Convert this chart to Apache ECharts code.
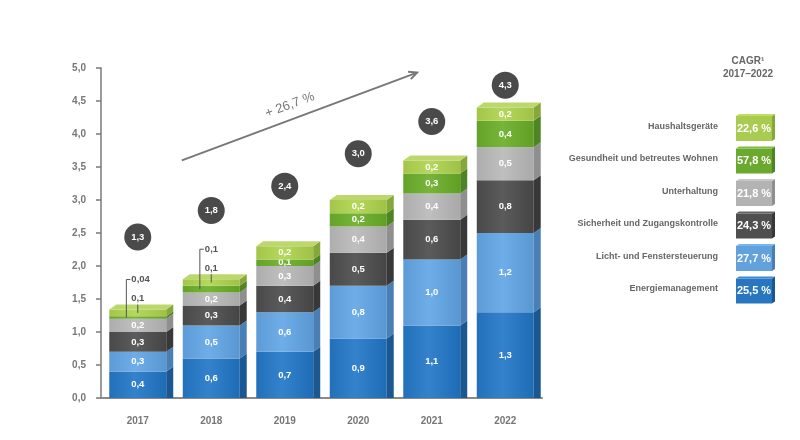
<!doctype html>
<html>
<head>
<meta charset="utf-8">
<title>Smart Home Umsatz 2017-2022</title>
<script src="https://cdn.jsdelivr.net/npm/echarts@6/dist/echarts.min.js"></script>
<style>
  html, body { margin: 0; padding: 0; background: #fff; }
  #chart { width: 800px; height: 440px; }
</style>
</head>
<body>
<div id="chart"></div>
<script>
// values as printed on the chart (bottom to top of each stack)
var years = ['2017', '2018', '2019', '2020', '2021', '2022'];
var energie = [0.4, 0.6, 0.7, 0.9, 1.1, 1.3];
var licht = [0.3, 0.5, 0.6, 0.8, 1.0, 1.2];
var sicherheit = [0.3, 0.3, 0.4, 0.5, 0.6, 0.8];
var unterhaltung = [0.2, 0.2, 0.3, 0.4, 0.4, 0.5];
var gesundheit = [0.04, 0.1, 0.1, 0.2, 0.3, 0.4];
var haushalt = [0.1, 0.1, 0.2, 0.2, 0.2, 0.2];
var totals = [1.3, 1.8, 2.4, 3.0, 3.6, 4.3];
var cagr = [25.5, 27.7, 24.3, 21.8, 57.8, 22.6];
var trendLabel = '+ 26,7 %';
var names = ['Energiemanagement', 'Licht- und Fenstersteuerung', 'Sicherheit und Zugangskontrolle',
             'Unterhaltung', 'Gesundheit und betreutes Wohnen', 'Haushaltsgeräte'];

// layout only
var bubbleAt = [2.44, 2.84, 3.21, 3.70, 4.19, 4.74];
var calloutYears = [0, 1];
var trendFrom = [0.6, 3.6], trendTo = [3.8, 4.93];
var front = ['#2876bf', '#63a1dd', '#4f4f4f', '#b3b3b3', '#6aa82e', '#a9cb4f'];
var side = ['#1b5891', '#4a7fb6', '#383838', '#8f8f8f', '#4e8421', '#86a73a'];
var topFace = '#bcd76c';
var FONT = '"Liberation Sans", Arial, sans-serif';

var stacks = [energie, licht, sicherheit, unterhaltung, gesundheit, haushalt];

function fmt(v) {
  return (v < 0.1 ? v.toFixed(2) : v.toFixed(1)).replace('.', ',');
}
function shade(c, amt) {
  var n = parseInt(c.slice(1), 16);
  var r = Math.min(255, Math.max(0, (n >> 16) + amt));
  var g = Math.min(255, Math.max(0, ((n >> 8) & 255) + amt));
  var b = Math.min(255, Math.max(0, (n & 255) + amt));
  return 'rgb(' + r + ',' + g + ',' + b + ')';
}

function segmentSeries(k) {
  var data = years.map(function (y, i) {
    var base = 0;
    for (var j = 0; j < k; j++) base += stacks[j][i];
    return [i, base, base + stacks[k][i], stacks[k][i]];
  });
  return {
    type: 'custom',
    name: names[k],
    data: data,
    encode: { x: 0, y: [1, 2] },
    z: 2,
    renderItem: function (params, api) {
      var cat = api.value(0), y0 = api.value(1), y1 = api.value(2), v = api.value(3);
      var pb = api.coord([cat, y0]), pt = api.coord([cat, y1]);
      var band = api.size([1, 0])[0];
      var w = band * 0.775, dx = 7, dy = 5;
      var xl = pb[0] - w / 2, xr = pb[0] + w / 2;
      var children = [
        {
          type: 'rect',
          shape: { x: xl, y: pt[1], width: w, height: pb[1] - pt[1] },
          style: {
            fill: new echarts.graphic.LinearGradient(0, 0, 1, 0, [
              { offset: 0, color: shade(front[k], -6) },
              { offset: 0.45, color: shade(front[k], 12) },
              { offset: 1, color: shade(front[k], -10) }
            ])
          }
        },
        {
          type: 'polygon',
          shape: { points: [[xr, pb[1]], [xr, pt[1]], [xr + dx, pt[1] - dy], [xr + dx, y0 === 0 ? pb[1] : pb[1] - dy]] },
          style: { fill: side[k] }
        }
      ];
      if (k === stacks.length - 1) {
        children.push({
          type: 'polygon',
          shape: { points: [[xl, pt[1]], [xl + dx, pt[1] - dy], [xr + dx, pt[1] - dy], [xr, pt[1]]] },
          style: { fill: topFace }
        });
      }
      var isCallout = k >= 4 && calloutYears.indexOf(cat) >= 0;
      if (!isCallout) {
        children.push({
          type: 'text',
          style: {
            text: fmt(v), x: pb[0], y: (pb[1] + pt[1]) / 2,
            fill: '#ffffff', font: 'bold 9.5px ' + FONT,
            align: 'center', verticalAlign: 'middle'
          }
        });
      }
      return { type: 'group', children: children };
    }
  };
}

var series = [];
for (var k = 0; k < stacks.length; k++) series.push(segmentSeries(k));

// external labels for the thin green segments
var calloutData = [];
calloutYears.forEach(function (i) {
  var base = energie[i] + licht[i] + sicherheit[i] + unterhaltung[i];
  var top = base + gesundheit[i] + haushalt[i];
  calloutData.push([i, base, base + gesundheit[i], top, 0, gesundheit[i]]);
  calloutData.push([i, base + gesundheit[i], top, top, 1, haushalt[i]]);
});
series.push({
  type: 'custom',
  data: calloutData,
  encode: { x: 0, y: 3 },
  z: 3,
  renderItem: function (params, api) {
    var cat = api.value(0), s = api.value(1), e = api.value(2), t = api.value(3);
    var kind = api.value(4), v = api.value(5);
    var mid = api.coord([cat, (s + e) / 2]), top = api.coord([cat, t]);
    var band = api.size([1, 0])[0];
    var lineStyle = { stroke: '#555', lineWidth: 1, fill: null };
    var textStyle = { fill: '#555', font: 'bold 9.5px ' + FONT, verticalAlign: 'middle' };
    if (kind === 0) {
      var lx = mid[0] - band * 0.155, ly = top[1] - 30;
      return {
        type: 'group', children: [
          { type: 'polyline', shape: { points: [[lx, mid[1]], [lx, ly], [lx + 4, ly]] }, style: lineStyle },
          { type: 'text', style: Object.assign({ text: fmt(v), x: lx + 5, y: ly, align: 'left' }, textStyle) }
        ]
      };
    }
    var ty = top[1] - 11;
    return {
      type: 'group', children: [
        { type: 'line', shape: { x1: mid[0], y1: ty + 6, x2: mid[0], y2: mid[1] }, style: lineStyle },
        { type: 'text', style: Object.assign({ text: fmt(v), x: mid[0], y: ty, align: 'center' }, textStyle) }
      ]
    };
  }
});

// total bubbles
series.push({
  type: 'scatter',
  data: years.map(function (y, i) { return [i, bubbleAt[i], totals[i]]; }),
  symbolSize: 27,
  z: 4,
  itemStyle: { color: '#4a4a4a', opacity: 1 },
  label: {
    show: true, position: 'inside', color: '#fff', fontSize: 9.5, fontWeight: 'bold', fontFamily: FONT,
    formatter: function (p) { return fmt(p.value[2]); }
  }
});

// growth arrow
series.push({
  type: 'custom',
  data: [[0, 0]],
  encode: { x: 0, y: 1 },
  z: 4,
  renderItem: function (params, api) {
    var band = api.size([1, 0])[0];
    var c0 = api.coord([0, trendFrom[1]]), c1 = api.coord([0, trendTo[1]]);
    var x0 = c0[0] + trendFrom[0] * band, y0 = c0[1];
    var x1 = c1[0] + trendTo[0] * band, y1 = c1[1];
    var ang = Math.atan2(y0 - y1, x1 - x0);
    var hl = 9, hw = 0.45;
    var tx = x0 + (x1 - x0) * 0.48 + Math.sin(ang) * -14;
    var ty = y0 + (y1 - y0) * 0.48 - Math.cos(ang) * 14;
    return {
      type: 'group', children: [
        { type: 'line', shape: { x1: x0, y1: y0, x2: x1, y2: y1 }, style: { stroke: '#777', lineWidth: 2 } },
        {
          type: 'polyline',
          shape: { points: [
            [x1 - hl * Math.cos(ang - hw), y1 + hl * Math.sin(ang - hw)],
            [x1, y1],
            [x1 - hl * Math.cos(ang + hw), y1 + hl * Math.sin(ang + hw)]
          ] },
          style: { stroke: '#777', lineWidth: 2, fill: null }
        },
        {
          type: 'text', x: tx, y: ty, rotation: ang,
          style: { text: trendLabel, x: 0, y: 0, fill: '#777', font: '13px ' + FONT, align: 'center', verticalAlign: 'middle' }
        }
      ]
    };
  }
});

// CAGR legend on the right
var graphic = [
  { type: 'text', x: 748, y: 61, style: { text: 'CAGR¹', fill: '#666', font: 'bold 10px ' + FONT, align: 'center', verticalAlign: 'middle' } },
  { type: 'text', x: 748, y: 74, style: { text: '2017–2022', fill: '#666', font: 'bold 10px ' + FONT, align: 'center', verticalAlign: 'middle' } }
];
for (var m = 0; m < names.length; m++) {
  var cy = 291 - 32.5 * m;
  graphic.push({
    type: 'group', x: 736, y: cy - 12.5, children: [
      { type: 'rect', shape: { x: 0, y: 0, width: 36, height: 25 }, style: { fill: front[m] } },
      { type: 'polygon', shape: { points: [[36, 0], [39, -2], [39, 23], [36, 25]] }, style: { fill: side[m] } },
      { type: 'polygon', shape: { points: [[0, 0], [3, -2], [39, -2], [36, 0]] }, style: { fill: shade(front[m], 20) } },
      { type: 'text', style: { text: cagr[m].toFixed(1).replace('.', ',') + ' %', x: 18, y: 12.5, fill: '#fff',
        font: 'bold 11px ' + FONT, align: 'center', verticalAlign: 'middle' } }
    ]
  });
  graphic.push({
    type: 'text', x: 718, y: cy - 2,
    style: { text: names[m], fill: '#666', font: 'bold 9px ' + FONT, align: 'right', verticalAlign: 'middle' }
  });
}

var chart = echarts.init(document.getElementById('chart'));
chart.setOption({
  animation: false,
  backgroundColor: '#fff',
  grid: { left: 101, right: 258, top: 68, bottom: 42 },
  xAxis: {
    type: 'category',
    data: years,
    axisLine: { lineStyle: { color: '#8a8a8a', width: 2 } },
    axisTick: { show: false },
    axisLabel: { color: '#777', fontWeight: 'bold', fontSize: 10, fontFamily: FONT, margin: 18 }
  },
  yAxis: {
    type: 'value',
    min: 0, max: 5, interval: 0.5,
    axisLine: { show: true, lineStyle: { color: '#7a7a7a', width: 1.5 } },
    axisTick: { show: true, length: 5, lineStyle: { color: '#7a7a7a', width: 1.5 } },
    splitLine: { show: false },
    axisLabel: {
      color: '#777', fontWeight: 'bold', fontSize: 10, fontFamily: FONT, margin: 15,
      formatter: function (v) { return v.toFixed(1).replace('.', ','); }
    }
  },
  graphic: graphic,
  series: series
});
</script>
</body>
</html>
